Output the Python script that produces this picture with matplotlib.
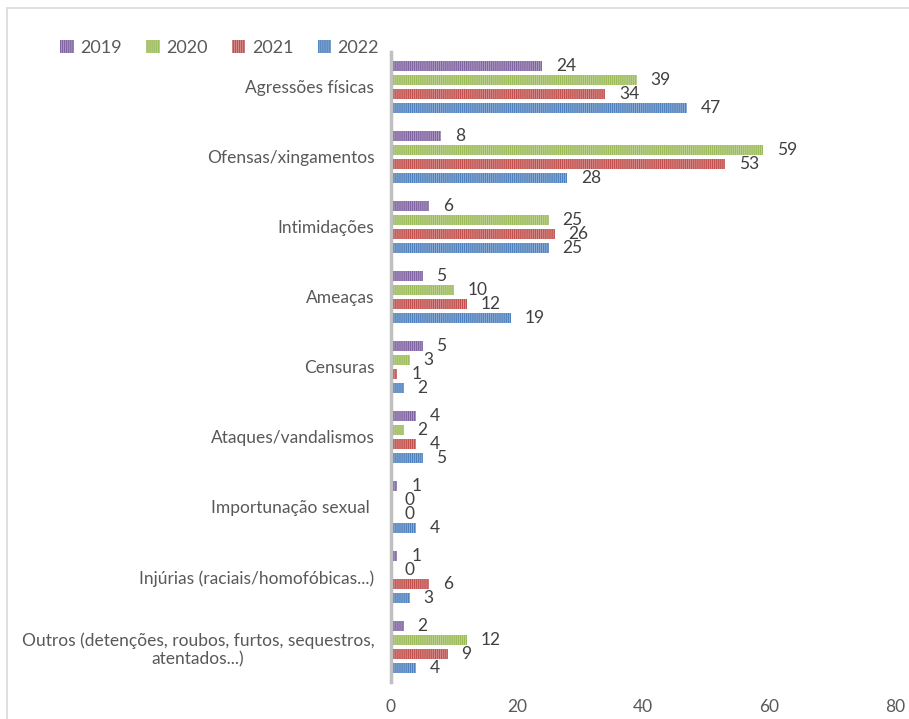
import matplotlib.pyplot as plt
from matplotlib.patches import Patch, Rectangle
import matplotlib.colors as mcolors
import numpy as np

categories = [
    "Agressões físicas",
    "Ofensas/xingamentos",
    "Intimidações",
    "Ameaças",
    "Censuras",
    "Ataques/vandalismos",
    "Importunação sexual ",
    "Injúrias (raciais/homofóbicas...)",
    "Outros (detenções, roubos, furtos, sequestros,\natentados...)",
]
years = ["2019", "2020", "2021", "2022"]
v2019 = [24, 8, 6, 5, 5, 4, 1, 1, 2]
v2020 = [39, 59, 25, 10, 3, 2, 0, 0, 12]
v2021 = [34, 53, 26, 12, 1, 4, 0, 6, 9]
v2022 = [47, 28, 25, 19, 2, 5, 4, 3, 4]
series = [v2019, v2020, v2021, v2022]
colors = ["#8064A2", "#9BBB59", "#C0504D", "#4F81BD"]

plt.rcParams['font.family'] = ['Lato', 'DejaVu Sans']
plt.rcParams['hatch.linewidth'] = 0.6

grey = "#595959"
HATCH = "||||||||"


def lighter(c, amt=0.4):
    r, g, b = mcolors.to_rgb(c)
    return (r + (1 - r) * amt, g + (1 - g) * amt, b + (1 - b) * amt)


fig = plt.figure(figsize=(9.09, 7.19), dpi=100)
fig.patches.append(Rectangle((7 / 909, -0.1), 1.2, 1 - 8 / 719 + 0.1,
                             transform=fig.transFigure, fill=False,
                             edgecolor="#D9D9D9", linewidth=1.2))
ax = fig.add_axes([391 / 909, 0.0515, (895 - 391) / 909, 0.8762])

y = np.arange(len(categories))
step = 0.196
for i, (vals, col) in enumerate(zip(series, colors)):
    offs = y + (i - 1.5) * step
    ax.barh(offs, vals, height=0.143, color=col, edgecolor=lighter(col),
            linewidth=0, hatch=HATCH, label=years[i])
    for yy, v in zip(offs, vals):
        ax.annotate(str(v), (v, yy), xytext=(10, 0), textcoords="offset points",
                    ha="left", va="center", fontsize=12.5, color="#404040")

ax.set_xlim(0, 80)
ax.set_ylim(len(categories) - 0.5, -0.5)
ax.set_xticks([0, 20, 40, 60, 80])
ax.set_yticks(y)
ax.set_yticklabels(categories, multialignment="center")
ax.tick_params(axis="both", length=0, labelsize=12.5, labelcolor=grey)
ax.tick_params(axis="y", pad=12)
ax.tick_params(axis="x", pad=12)
for s in ["top", "right", "bottom"]:
    ax.spines[s].set_visible(False)
ax.spines["left"].set_color("#BFBFBF")
ax.spines["left"].set_linewidth(2.5)

handles = [Patch(facecolor=c, edgecolor=lighter(c), linewidth=0, hatch=HATCH)
           for c in colors]
leg = fig.legend(handles, years, loc="center left", ncol=4, frameon=False,
                 bbox_to_anchor=(44 / 909, 1 - 48 / 719), fontsize=13,
                 handlelength=0.75, handleheight=0.75, handletextpad=0.35,
                 columnspacing=1.35)
for t in leg.get_texts():
    t.set_color(grey)

fig.savefig("out.png", dpi=100)
